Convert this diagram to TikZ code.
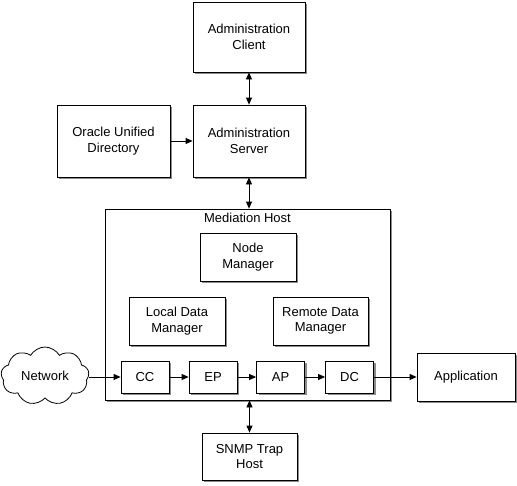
\documentclass[tikz,border=0pt]{standalone}
\usepackage{fontspec}
\setmainfont{Liberation Sans}
\usetikzlibrary{arrows.meta,positioning,shapes.symbols,shadows}

\begin{document}
\begin{tikzpicture}[x=1pt,y=-1pt,
  box/.style={draw, fill=white, line width=0.8pt, align=center, inner sep=0pt,
    font=\fontsize{13}{15.5}\selectfont,
    drop shadow={shadow xshift=2pt, shadow yshift=-2pt, fill=black!45, opacity=1}},
  link/.style={-{Triangle[length=7pt,width=6pt]}, line width=0.8pt},
  both/.style={{Triangle[length=7pt,width=6pt]}-{Triangle[length=7pt,width=6pt]}, line width=0.8pt}]
  \useasboundingbox (0,0) rectangle (517,485);
  % Admin side
  \node[box, minimum width=112pt, minimum height=70pt] (client) at (249,37) {Administration\\Client};
  \node[box, minimum width=112pt, minimum height=72pt] (server) at (249,141) {Administration\\Server};
  \node[box, minimum width=113pt, minimum height=72pt] (oud) at (113.5,141) {Oracle Unified\\Directory};
  % Mediation host frame
  \node[box, minimum width=285pt, minimum height=191pt] (host) at (247.5,304.5) {};
  \node[below=1pt, font=\fontsize{13}{15.5}\selectfont] (hosttitle) at (host.north) {Mediation Host};
  \node[box, minimum width=96pt, minimum height=48pt] (nm) at (248,257) {Node\\Manager};
  \node[box, minimum width=96pt, minimum height=48pt] (ldm) at (177,321) {Local Data\\Manager};
  \node[box, minimum width=95pt, minimum height=48pt] (rdm) at (320.5,321) {Remote Data\\Manager};
  % Collector chain
  \foreach \n/\x in {cc/145, ep/213, ap/280.5, dc/349.5}{
    \node[box, minimum width=48pt, minimum height=32pt] (\n) at (\x,377) {\MakeUppercase{\n}};
  }
  % Outside the host
  \node[cloud, draw, fill=white, line width=0.8pt, cloud puffs=9, cloud puff arc=120, aspect=1.6,
    minimum width=88pt, minimum height=58pt, inner sep=0pt, font=\fontsize{13}{15.5}\selectfont] (net) at (45,376) {Network};
  \node[box, minimum width=98pt, minimum height=48pt] (app) at (466,377) {Application};
  \node[box, minimum width=95pt, minimum height=47pt] (snmp) at (249.5,456.5) {SNMP Trap\\Host};
  % Connectors
  \draw[both] (client) -- (server);
  \draw[both] (server.south) -- (server.south |- host.north);
  \draw[link] (oud) -- (server);
  \draw[both] (snmp.north) -- (snmp.north |- host.south);
  \draw[link] (net.east |- cc) -- (cc);
  \foreach \a/\b in {cc/ep, ep/ap, ap/dc, dc/app}{
    \draw[link] (\a) -- (\b);
  }
\end{tikzpicture}
\end{document}
